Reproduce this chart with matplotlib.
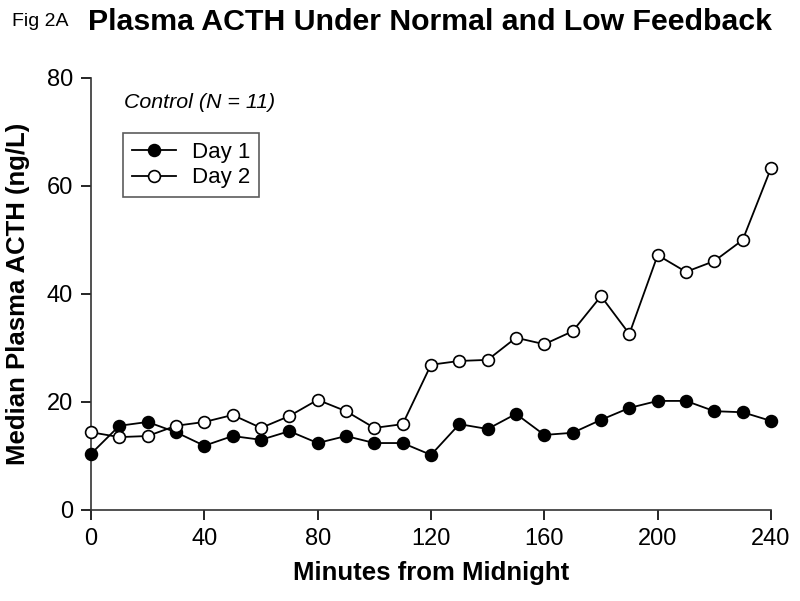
import matplotlib
matplotlib.use("Agg")
import matplotlib.pyplot as plt

plt.rcParams['font.family'] = ['Liberation Sans', 'DejaVu Sans']

minutes = [0, 10, 20, 30, 40, 50, 60, 70, 80, 90, 100, 110, 120,
           130, 140, 150, 160, 170, 180, 190, 200, 210, 220, 230, 240]
day1 = [10.4, 15.6, 16.3, 14.4, 11.9, 13.7, 13.0, 14.6, 12.4, 13.7, 12.4, 12.4, 10.2,
        15.9, 15.0, 17.8, 13.9, 14.3, 16.7, 18.9, 20.2, 20.2, 18.3, 18.1, 16.5]
day2 = [14.4, 13.5, 13.7, 15.6, 16.3, 17.6, 15.2, 17.4, 20.4, 18.3, 15.2, 15.9, 26.9,
        27.6, 27.8, 31.9, 30.7, 33.1, 39.6, 32.6, 47.2, 44.1, 46.1, 50.0, 63.3]
xticks = [0, 40, 80, 120, 160, 200, 240]
yticks = [0, 20, 40, 60, 80]

fig = plt.figure(figsize=(8, 6.01), dpi=100)
ax = fig.add_axes([91/800, 91/601, 680/800, 432/601])

ax.plot(minutes, day1, color='black', lw=1.3, marker='o', ms=8.5,
        mfc='black', mec='black', mew=1.2, label='Day 1', clip_on=False, zorder=3)
ax.plot(minutes, day2, color='black', lw=1.3, marker='o', ms=8.5,
        mfc='white', mec='black', mew=1.2, label='Day 2', clip_on=False, zorder=3)

ax.set_xlim(0, 240)
ax.set_ylim(0, 80)
ax.set_xticks(xticks)
ax.set_yticks(yticks)
ax.tick_params(direction='out', length=7, width=1.2, labelsize=17, pad=6)
for s in ['top', 'right']:
    ax.spines[s].set_visible(False)
for s in ['left', 'bottom']:
    ax.spines[s].set_linewidth(1.2)
    ax.spines[s].set_color('#333333')

ax.set_xlabel('Minutes from Midnight', fontsize=18.5, fontweight='bold', labelpad=8)
ax.set_ylabel('Median Plasma ACTH (ng/L)', fontsize=18.5, fontweight='bold', labelpad=12)

ax.text(124/800, 1 - 102/601, 'Control (N = 11)', transform=fig.transFigure,
        fontsize=15.4, style='italic', va='center', ha='left')

leg = ax.legend(loc='upper left', bbox_to_anchor=(123/800, 1 - 133/601),
                bbox_transform=fig.transFigure, fontsize=16, frameon=True,
                fancybox=False, edgecolor='#333333', handlelength=2.0,
                borderpad=0.4, labelspacing=0.2, handletextpad=0.7,
                borderaxespad=0)
leg.get_frame().set_linewidth(1.2)

fig.text(12/800, 1 - 22/601, 'Fig 2A', fontsize=14, va='center', ha='left')
fig.text(88/800, 1 - 22/601, 'Plasma ACTH Under Normal and Low Feedback',
         fontsize=21.8, fontweight='bold', va='center', ha='left')

fig.savefig('out.png', dpi=100)
